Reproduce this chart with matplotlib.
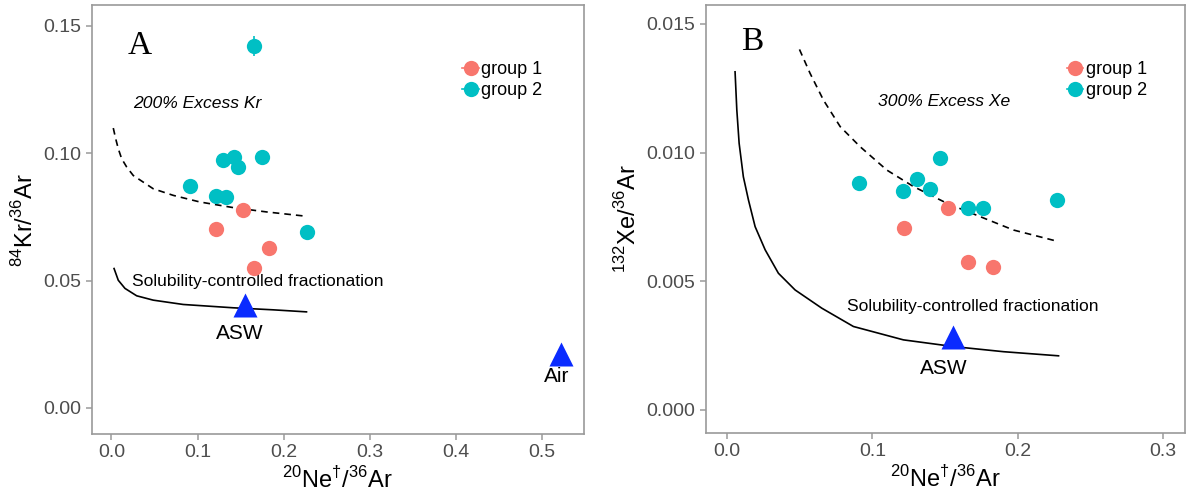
import numpy as np
import matplotlib.pyplot as plt
from matplotlib.lines import Line2D

plt.rcParams['font.family'] = ['Liberation Sans', 'DejaVu Sans']
plt.rcParams['mathtext.fontset'] = 'custom'
plt.rcParams['mathtext.rm'] = 'Liberation Sans'

RED = '#F8766D'
TEAL = '#00BFC4'
BLUE = '#0A2BFF'
GREY = '#4D4D4D'

# ---- panel A: 84Kr/36Ar vs 20Ne/36Ar ----
kr_g1_x = [0.153, 0.122, 0.1835, 0.166]
kr_g1_y = [0.0778, 0.0701, 0.0627, 0.0551]
kr_g1_xerr = [0.002, 0.002, 0.002, 0.002]
kr_g1_yerr = [0.001, 0.0025, 0.001, 0.001]
kr_g2_x = [0.166, 0.130, 0.142, 0.1475, 0.175, 0.0918, 0.121, 0.1336, 0.2276]
kr_g2_y = [0.142, 0.0971, 0.0983, 0.0944, 0.0983, 0.0870, 0.0830, 0.0826, 0.0690]
kr_g2_xerr = [0.002, 0.002, 0.002, 0.002, 0.002, 0.002, 0.002, 0.002, 0.002]
kr_g2_yerr = [0.004, 0.001, 0.0015, 0.001, 0.002, 0.001, 0.001, 0.001, 0.001]

kr_excess_x = [0.0021, 0.0049, 0.0079, 0.0118, 0.0177, 0.0253, 0.0369, 0.0485, 0.0718,
               0.1028, 0.1415, 0.1803, 0.2267]
kr_excess_y = [0.1098, 0.1056, 0.1017, 0.0978, 0.0945, 0.0912, 0.0886, 0.0860, 0.0834,
               0.0808, 0.0786, 0.0769, 0.0752]
kr_sol_x = [0.003, 0.0079, 0.0157, 0.0293, 0.0485, 0.0834, 0.1415, 0.188, 0.2267]
kr_sol_y = [0.0547, 0.0501, 0.0469, 0.0440, 0.0423, 0.0406, 0.0393, 0.0385, 0.0377]

kr_asw = (0.155, 0.0402)
kr_air = (0.522, 0.0210)

# ---- panel B: 132Xe/36Ar vs 20Ne/36Ar ----
xe_g1_x = [0.1523, 0.1214, 0.1657, 0.1826]
xe_g1_y = [0.00783, 0.00706, 0.00574, 0.00557]
xe_g1_xerr = [0.002, 0.004, 0.002, 0.003]
xe_g1_yerr = [0.0001, 0.0001, 0.0001, 0.0001]
xe_g2_x = [0.091, 0.1207, 0.1305, 0.1397, 0.1466, 0.1657, 0.1757, 0.2269]
xe_g2_y = [0.00881, 0.00851, 0.00896, 0.00857, 0.0098, 0.00783, 0.00783, 0.00816]
xe_g2_xerr = [0.002, 0.002, 0.002, 0.002, 0.002, 0.002, 0.003, 0.004]
xe_g2_yerr = [0.0001, 0.0001, 0.0001, 0.0001, 0.0001, 0.0001, 0.0001, 0.0001]

xe_excess_x = [0.0498, 0.0571, 0.0663, 0.0778, 0.0915, 0.1099, 0.1282, 0.1512, 0.1741, 0.197, 0.228]
xe_excess_y = [0.01401, 0.01308, 0.01204, 0.01101, 0.01023, 0.00932, 0.00868, 0.00803, 0.00751,
               0.00699, 0.00654]
xe_sol_x = [0.0055, 0.0067, 0.0083, 0.0112, 0.0147, 0.0193, 0.0262, 0.0353, 0.0468, 0.0652,
            0.0869, 0.1213, 0.1557, 0.1902, 0.228]
xe_sol_y = [0.01314, 0.01166, 0.01036, 0.00906, 0.00816, 0.00712, 0.00622, 0.00531, 0.00466,
            0.00395, 0.00324, 0.00272, 0.00246, 0.00226, 0.00210]

xe_asw = (0.1555, 0.00283)

xlabel = r'$^{20}$Ne$^{\dagger}$/$^{36}$Ar'


def style_axes(ax):
    for s in ax.spines.values():
        s.set_color('#9a9a9a')
        s.set_linewidth(1.2)
    ax.tick_params(colors='#9a9a9a', labelcolor=GREY, labelsize=14, length=4, width=1.1)
    ax.set_xlabel(xlabel, fontsize=17, labelpad=4)


def draw_groups(ax, g1, g2):
    for (x, y, xe, ye), col in ((g2, TEAL), (g1, RED)):
        ax.errorbar(x, y, xerr=xe, yerr=ye, fmt='o', color=col, ms=11,
                    mec='none', elinewidth=1.2, capsize=0, zorder=3)
    handles = [Line2D([], [], marker='o', ls='-', color=c, ms=11, mec='none', lw=1.2)
               for c in (RED, TEAL)]
    ax.legend(handles, ['group 1', 'group 2'], loc='upper left', bbox_to_anchor=(0.735, 0.89),
              frameon=False, fontsize=13, handlelength=0.9, handletextpad=0.15,
              labelspacing=0.2, borderpad=0)


fig = plt.figure(figsize=(11.88, 4.94), dpi=100)
axA = fig.add_axes([0.0774, 0.1215, 0.414, 0.868])
axB = fig.add_axes([0.5939, 0.1235, 0.4036, 0.866])

# panel A
draw_groups(axA, (kr_g1_x, kr_g1_y, kr_g1_xerr, kr_g1_yerr),
            (kr_g2_x, kr_g2_y, kr_g2_xerr, kr_g2_yerr))
axA.plot(kr_excess_x, kr_excess_y, ls=(0, (4, 3)), color='black', lw=1.2)
axA.plot(kr_sol_x, kr_sol_y, color='black', lw=1.2)
axA.plot(*kr_asw, marker='^', color=BLUE, ms=17, mec='none', zorder=4)
axA.plot(*kr_air, marker='^', color=BLUE, ms=17, mec='none', zorder=4)
axA.text(0.149, 0.0294, 'ASW', fontsize=15, ha='center', va='center')
axA.text(0.517, 0.0125, 'Air', fontsize=15, ha='center', va='center')
axA.text(0.025, 0.1194, '200% Excess Kr', fontsize=12.6, style='italic', va='center')
axA.text(0.024, 0.0497, 'Solubility-controlled fractionation', fontsize=12.6, va='center')
axA.text(0.033, 0.142, 'A', fontsize=24, family='Liberation Serif', ha='center', va='center')
axA.set_xlim(-0.0227, 0.549)
axA.set_ylim(-0.0102, 0.158)
axA.set_xticks([0.0, 0.1, 0.2, 0.3, 0.4, 0.5])
axA.set_yticks([0.0, 0.05, 0.10, 0.15])
axA.set_yticklabels(['0.00', '0.05', '0.10', '0.15'])
axA.set_ylabel(r'$^{84}$Kr/$^{36}$Ar', fontsize=17, labelpad=4)
style_axes(axA)

# panel B
draw_groups(axB, (xe_g1_x, xe_g1_y, xe_g1_xerr, xe_g1_yerr),
            (xe_g2_x, xe_g2_y, xe_g2_xerr, xe_g2_yerr))
axB.plot(xe_excess_x, xe_excess_y, ls=(0, (4, 3)), color='black', lw=1.2)
axB.plot(xe_sol_x, xe_sol_y, color='black', lw=1.2)
axB.plot(*xe_asw, marker='^', color=BLUE, ms=17, mec='none', zorder=4)
axB.text(0.149, 0.00159, 'ASW', fontsize=15, ha='center', va='center')
axB.text(0.104, 0.01197, '300% Excess Xe', fontsize=12.6, style='italic', va='center')
axB.text(0.0826, 0.0040, 'Solubility-controlled fractionation', fontsize=12.6, va='center')
axB.text(0.0172, 0.0143, 'B', fontsize=24, family='Liberation Serif', ha='center', va='center')
axB.set_xlim(-0.0148, 0.315)
axB.set_ylim(-0.0009, 0.01573)
axB.set_xticks([0.0, 0.1, 0.2, 0.3])
axB.set_yticks([0.0, 0.005, 0.010, 0.015])
axB.set_yticklabels(['0.000', '0.005', '0.010', '0.015'])
axB.set_ylabel(r'$^{132}$Xe/$^{36}$Ar', fontsize=17, labelpad=4)
style_axes(axB)

fig.savefig('out.png', dpi=100)
